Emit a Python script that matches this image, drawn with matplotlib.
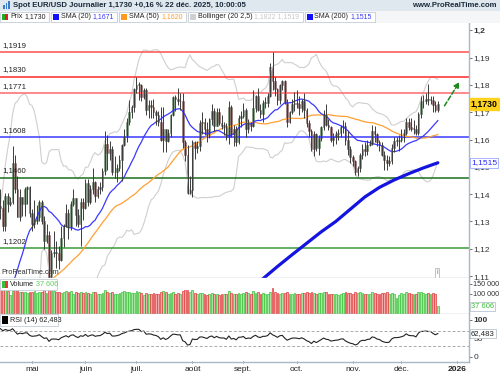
import matplotlib
matplotlib.use("Agg")
import matplotlib.pyplot as plt
import matplotlib.patches as mpatches
import matplotlib.transforms as mtransforms
import numpy as np
import pandas as pd

plt.rcParams['font.family'] = ['Liberation Sans', 'DejaVu Sans']

W, H = 500, 375

# trading days shown (EUR/USD daily, 14 Apr 2025 -> 22 Dec 2025)
dates = pd.bdate_range('2025-04-14', '2025-12-22')

# closes before the first candle, only used to start the moving averages / RSI
warmup_close = [1.0345, 1.0378, 1.0405, 1.0380, 1.0330, 1.0307, 1.0360, 1.0380, 1.0463, 1.0490,
                1.0485, 1.0445, 1.0420, 1.0500, 1.0460, 1.0465, 1.0515, 1.0485, 1.0400, 1.0375,
                1.0485, 1.0625, 1.0790, 1.0785, 1.0835, 1.0835, 1.0920, 1.0890, 1.0850, 1.0880,
                1.0920, 1.0945, 1.0900, 1.0855, 1.0815, 1.0800, 1.0795, 1.0755, 1.0800, 1.0830,
                1.0815, 1.0790, 1.0850, 1.1050, 1.0960, 1.0910, 1.0955, 1.0950, 1.1195, 1.1355]

open_ = [
    # avr
    1.1355, 1.1350, 1.1285, 1.1395, 1.1365, 1.1370, 1.1515, 1.1420, 1.1315, 1.1390, 1.1365, 1.1420, 1.1425,
    # mai
    1.1330, 1.1290, 1.1300, 1.1315, 1.1370, 1.1300, 1.1230, 1.1250, 1.1090, 1.1185, 1.1190, 1.1185, 1.1160,
    1.1240, 1.1285, 1.1330, 1.1280, 1.1365, 1.1385, 1.1325, 1.1290, 1.1370,
    # juin
    1.1350, 1.1440, 1.1370, 1.1420, 1.1445, 1.1395, 1.1420, 1.1425, 1.1485, 1.1585, 1.1550, 1.1565, 1.1480,
    1.1480, 1.1495, 1.1525, 1.1580, 1.1610, 1.1665, 1.1700, 1.1720,
    # juil
    1.1785, 1.1800, 1.1800, 1.1755, 1.1780, 1.1710, 1.1725, 1.1720, 1.1700, 1.1690, 1.1665, 1.1600, 1.1640,
    1.1595, 1.1625, 1.1690, 1.1755, 1.1750, 1.1740, 1.1740, 1.1590, 1.1545, 1.1405,
    # aout
    1.1415, 1.1590, 1.1570, 1.1575, 1.1660, 1.1665, 1.1640, 1.1615, 1.1675, 1.1705, 1.1650, 1.1700, 1.1660,
    1.1650, 1.1650, 1.1610, 1.1720, 1.1620, 1.1640, 1.1590, 1.1680,
    # sept
    1.1685, 1.1710, 1.1640, 1.1660, 1.1650, 1.1715, 1.1760, 1.1710, 1.1695, 1.1735, 1.1735, 1.1760, 1.1865,
    1.1815, 1.1785, 1.1745, 1.1800, 1.1815, 1.1735, 1.1665, 1.1700, 1.1730,
    # oct
    1.1735, 1.1730, 1.1715, 1.1740, 1.1710, 1.1660, 1.1630, 1.1565, 1.1620, 1.1570, 1.1605, 1.1645, 1.1690,
    1.1655, 1.1645, 1.1600, 1.1610, 1.1620, 1.1625, 1.1645, 1.1650, 1.1600, 1.1565,
    # nov
    1.1535, 1.1520, 1.1480, 1.1495, 1.1545, 1.1565, 1.1560, 1.1580, 1.1585, 1.1630, 1.1620, 1.1590, 1.1580,
    1.1545, 1.1525, 1.1515, 1.1520, 1.1570, 1.1595, 1.1595,
    # dec
    1.1600, 1.1610, 1.1625, 1.1665, 1.1645, 1.1640, 1.1640, 1.1625, 1.1695, 1.1740, 1.1740, 1.1750, 1.1745,
    1.1745, 1.1725, 1.1710]

high = [
    1.1420, 1.1380, 1.1405, 1.1405, 1.1390, 1.1575, 1.1545, 1.1465, 1.1420, 1.1390, 1.1425, 1.1430, 1.1430,
    1.1345, 1.1380, 1.1360, 1.1380, 1.1380, 1.1320, 1.1290, 1.1265, 1.1195, 1.1265, 1.1230, 1.1210, 1.1285,
    1.1290, 1.1365, 1.1345, 1.1375, 1.1420, 1.1385, 1.1345, 1.1385, 1.1385,
    1.1455, 1.1455, 1.1435, 1.1495, 1.1450, 1.1430, 1.1445, 1.1495, 1.1630, 1.1615, 1.1595, 1.1575, 1.1540,
    1.1510, 1.1545, 1.1585, 1.1640, 1.1680, 1.1745, 1.1725, 1.1790,
    1.1830, 1.1810, 1.1805, 1.1790, 1.1790, 1.1745, 1.1745, 1.1750, 1.1710, 1.1705, 1.1720, 1.1720, 1.1640,
    1.1640, 1.1695, 1.1760, 1.1765, 1.1790, 1.1770, 1.1770, 1.1600, 1.1580, 1.1465,
    1.1600, 1.1595, 1.1595, 1.1670, 1.1700, 1.1680, 1.1665, 1.1680, 1.1730, 1.1715, 1.1715, 1.1715, 1.1690,
    1.1665, 1.1660, 1.1740, 1.1725, 1.1655, 1.1650, 1.1690, 1.1705,
    1.1735, 1.1715, 1.1675, 1.1665, 1.1780, 1.1765, 1.1790, 1.1730, 1.1745, 1.1755, 1.1770, 1.1880, 1.1919,
    1.1830, 1.1790, 1.1805, 1.1820, 1.1820, 1.1750, 1.1705, 1.1750, 1.1775,
    1.1780, 1.1760, 1.1750, 1.1770, 1.1715, 1.1670, 1.1640, 1.1630, 1.1625, 1.1615, 1.1650, 1.1710, 1.1730,
    1.1675, 1.1650, 1.1625, 1.1630, 1.1640, 1.1655, 1.1670, 1.1665, 1.1630, 1.1575,
    1.1545, 1.1525, 1.1505, 1.1550, 1.1585, 1.1590, 1.1600, 1.1600, 1.1655, 1.1650, 1.1625, 1.1600, 1.1590,
    1.1560, 1.1545, 1.1540, 1.1585, 1.1610, 1.1610, 1.1615,
    1.1640, 1.1640, 1.1680, 1.1680, 1.1680, 1.1670, 1.1655, 1.1700, 1.1760, 1.1765, 1.1770, 1.1805, 1.1760,
    1.1760, 1.1740, 1.1740]

low = [
    1.1310, 1.1265, 1.1265, 1.1335, 1.1355, 1.1365, 1.1405, 1.1315, 1.1300, 1.1320, 1.1320, 1.1365, 1.1315,
    1.1265, 1.1275, 1.1290, 1.1300, 1.1290, 1.1200, 1.1220, 1.1065, 1.1085, 1.1170, 1.1130, 1.1125, 1.1155,
    1.1205, 1.1280, 1.1235, 1.1270, 1.1355, 1.1285, 1.1280, 1.1210, 1.1305,
    1.1345, 1.1355, 1.1365, 1.1400, 1.1370, 1.1385, 1.1400, 1.1410, 1.1470, 1.1490, 1.1525, 1.1470, 1.1460,
    1.1445, 1.1485, 1.1450, 1.1575, 1.1590, 1.1655, 1.1680, 1.1700,
    1.1770, 1.1745, 1.1740, 1.1750, 1.1690, 1.1680, 1.1680, 1.1680, 1.1655, 1.1650, 1.1595, 1.1555, 1.1555,
    1.1590, 1.1610, 1.1685, 1.1705, 1.1725, 1.1710, 1.1570, 1.1520, 1.1400, 1.1400,
    1.1390, 1.1530, 1.1550, 1.1560, 1.1620, 1.1615, 1.1590, 1.1605, 1.1655, 1.1630, 1.1650, 1.1655, 1.1640,
    1.1615, 1.1600, 1.1585, 1.1610, 1.1575, 1.1575, 1.1585, 1.1645,
    1.1680, 1.1610, 1.1625, 1.1630, 1.1645, 1.1700, 1.1705, 1.1680, 1.1665, 1.1715, 1.1720, 1.1755, 1.1780,
    1.1760, 1.1725, 1.1730, 1.1780, 1.1730, 1.1645, 1.1660, 1.1695, 1.1705,
    1.1715, 1.1690, 1.1700, 1.1680, 1.1645, 1.1610, 1.1560, 1.1540, 1.1560, 1.1545, 1.1595, 1.1635, 1.1650,
    1.1635, 1.1590, 1.1575, 1.1585, 1.1600, 1.1610, 1.1625, 1.1580, 1.1545, 1.1515,
    1.1505, 1.1470, 1.1468, 1.1480, 1.1530, 1.1540, 1.1545, 1.1575, 1.1580, 1.1590, 1.1575, 1.1560, 1.1540,
    1.1490, 1.1490, 1.1505, 1.1510, 1.1555, 1.1575, 1.1560,
    1.1590, 1.1590, 1.1615, 1.1635, 1.1630, 1.1620, 1.1615, 1.1615, 1.1680, 1.1715, 1.1730, 1.1725, 1.1730,
    1.1700, 1.1700, 1.1700]

close = [
    1.1350, 1.1285, 1.1395, 1.1365, 1.1370, 1.1515, 1.1420, 1.1315, 1.1390, 1.1365, 1.1420, 1.1425, 1.1330,
    1.1290, 1.1300, 1.1315, 1.1370, 1.1300, 1.1230, 1.1250, 1.1090, 1.1185, 1.1190, 1.1185, 1.1160, 1.1240,
    1.1285, 1.1330, 1.1280, 1.1365, 1.1385, 1.1325, 1.1290, 1.1370, 1.1350,
    1.1440, 1.1370, 1.1420, 1.1445, 1.1395, 1.1420, 1.1425, 1.1485, 1.1585, 1.1550, 1.1565, 1.1480, 1.1480,
    1.1495, 1.1525, 1.1580, 1.1610, 1.1665, 1.1700, 1.1720, 1.1785,
    1.1800, 1.1800, 1.1755, 1.1780, 1.1710, 1.1725, 1.1720, 1.1700, 1.1690, 1.1665, 1.1600, 1.1640, 1.1595,
    1.1625, 1.1690, 1.1755, 1.1750, 1.1740, 1.1740, 1.1590, 1.1545, 1.1405, 1.1415,
    1.1590, 1.1570, 1.1575, 1.1660, 1.1665, 1.1640, 1.1615, 1.1675, 1.1705, 1.1650, 1.1700, 1.1660, 1.1650,
    1.1650, 1.1610, 1.1720, 1.1620, 1.1640, 1.1590, 1.1680, 1.1685,
    1.1710, 1.1640, 1.1660, 1.1650, 1.1715, 1.1760, 1.1710, 1.1695, 1.1735, 1.1735, 1.1760, 1.1865, 1.1815,
    1.1785, 1.1745, 1.1800, 1.1815, 1.1735, 1.1665, 1.1700, 1.1730, 1.1735,
    1.1730, 1.1715, 1.1740, 1.1710, 1.1660, 1.1630, 1.1565, 1.1620, 1.1570, 1.1605, 1.1645, 1.1690, 1.1655,
    1.1645, 1.1600, 1.1610, 1.1620, 1.1625, 1.1645, 1.1650, 1.1600, 1.1565, 1.1535,
    1.1520, 1.1480, 1.1495, 1.1545, 1.1565, 1.1560, 1.1580, 1.1585, 1.1630, 1.1620, 1.1590, 1.1580, 1.1545,
    1.1525, 1.1515, 1.1520, 1.1570, 1.1595, 1.1595, 1.1600,
    1.1610, 1.1625, 1.1665, 1.1645, 1.1640, 1.1640, 1.1625, 1.1695, 1.1740, 1.1740, 1.1750, 1.1745, 1.1745,
    1.1725, 1.1710, 1.1730]

volume = [
    128000, 122000, 118000, 115000, 95000, 125000, 130000, 124000, 112000, 108000, 110000, 104000, 112000,
    108000, 115000, 104000, 110000, 112000, 118000, 106000, 128000, 120000, 115000, 110000, 108000, 104000,
    112000, 116000, 108000, 114000, 98000, 110000, 106000, 112000, 104000,
    108000, 104000, 100000, 112000, 110000, 98000, 102000, 106000, 118000, 112000, 104000, 110000, 102000,
    100000, 106000, 112000, 114000, 108000, 110000, 104000, 106000,
    116000, 108000, 104000, 96000, 106000, 102000, 100000, 104000, 98000, 100000, 110000, 114000, 108000,
    102000, 104000, 108000, 100000, 104000, 98000, 116000, 118000, 120000, 112000,
    122000, 104000, 100000, 106000, 104000, 98000, 96000, 100000, 104000, 100000, 102000, 96000, 98000,
    100000, 98000, 116000, 104000, 100000, 102000, 104000, 100000,
    106000, 108000, 104000, 102000, 116000, 104000, 108000, 100000, 104000, 98000, 100000, 110000, 128000,
    112000, 104000, 100000, 104000, 106000, 110000, 102000, 98000, 104000,
    102000, 100000, 106000, 104000, 108000, 106000, 110000, 104000, 100000, 106000, 104000, 108000, 110000,
    100000, 102000, 98000, 100000, 96000, 100000, 104000, 108000, 106000, 104000,
    102000, 108000, 104000, 110000, 106000, 100000, 102000, 98000, 110000, 104000, 100000, 102000, 104000,
    106000, 108000, 98000, 104000, 100000, 80000, 96000,
    104000, 102000, 110000, 104000, 100000, 98000, 102000, 108000, 112000, 104000, 100000, 106000, 102000,
    104000, 100000, 37606]

# SMA 200 (only the visible part)
sma200_idx = [102, 108, 114, 120, 126, 132, 138, 144, 150, 156, 162, 168, 174, 180]
sma200_val = [1.1045, 1.1090, 1.1135, 1.1178, 1.1220, 1.1262, 1.1300, 1.1345, 1.1390, 1.1425,
              1.1452, 1.1475, 1.1496, 1.1515]

# horizontal levels drawn on the chart
levels = [1.1919, 1.1830, 1.1771, 1.1608, 1.1460, 1.1202]
level_colors = ['#ff5050', '#ff2a2a', '#ff6a6a', '#3a3aff', '#1e6e1e', '#3a9a3a']
level_labels = ['1,1919', '1,1830', '1,1771', '1,1608', '1,1460', '1,1202']

month_labels = ['mai', 'juin', 'juil.', 'août', 'sept.', 'oct.', 'nov.', 'déc.', '2026']
month_starts = ['2025-05-01', '2025-06-02', '2025-07-01', '2025-08-01', '2025-09-01', '2025-10-01',
                '2025-11-03', '2025-12-01', '2026-01-01']

n = len(dates)
assert len(open_) == n and len(high) == n and len(low) == n and len(close) == n and len(volume) == n

o = np.array(open_)
h = np.array(high)
l = np.array(low)
c = np.array(close)
x = np.arange(n)

# indicators
full = pd.Series(warmup_close + close)
nw = len(warmup_close)
sma20 = full.rolling(20).mean().values[nw:]
sma50 = full.rolling(50).mean().values[nw:]
std20 = full.rolling(20).std(ddof=0).values[nw:]
bb_up = sma20 + 2.5 * std20
bb_dn = sma20 - 2.5 * std20

delta = full.diff()
gain = delta.clip(lower=0).ewm(alpha=1 / 14, adjust=False).mean()
loss = (-delta.clip(upper=0)).ewm(alpha=1 / 14, adjust=False).mean()
rsi = (100 - 100 / (1 + gain / loss)).values[nw:]


# pixel helpers
def fx(px):
    return px / W


def fy(py):
    return 1 - py / H


def idx_of_px(px):
    return 13 + (px - 32) / 2.43


x_left = idx_of_px(0)
x_right = idx_of_px(469)

fig = plt.figure(figsize=(5, 3.75), dpi=100)
fig.patch.set_facecolor('white')

axis_col = '#a9b8c6'

ax = fig.add_axes([0, fy(278), fx(469), fy(23) - fy(278)])
axv = fig.add_axes([0, fy(314), fx(469), fy(278) - fy(314)], sharex=ax)
axr = fig.add_axes([0, fy(362), fx(469), fy(314) - fy(362)], sharex=ax)

for a in (ax, axv, axr):
    a.set_facecolor('white')
    for s in ('left', 'top'):
        a.spines[s].set_visible(False)
    a.spines['right'].set_color(axis_col)
    a.spines['bottom'].set_color(axis_col)
    a.spines['right'].set_linewidth(1)
    a.spines['bottom'].set_linewidth(1)
    a.yaxis.tick_right()
    a.tick_params(axis='y', length=2, width=0.6, color='#555555', labelsize=6, pad=1,
                  labelcolor='#333333')
    a.tick_params(axis='x', length=0)

# ---- price panel ----
ax.set_xlim(x_left, x_right)
ax.set_ylim(1.1093, 1.2027)

ax.plot(x, bb_up, color='#cfcfcf', lw=0.8)
ax.plot(x, bb_dn, color='#cfcfcf', lw=0.8)

for lv, col, lab in zip(levels, level_colors, level_labels):
    ax.axhline(lv, color=col, lw=1.1)
    ax.text(x_left + 0.8, lv + 0.0012, lab, fontsize=5.6, color='#222222', va='bottom', ha='left')

ax.plot(sma200_idx, sma200_val, color='#1414e0', lw=2.3, solid_capstyle='round')
ax.plot(x, sma50, color='#ffa033', lw=0.9)
ax.plot(x, sma20, color='#3a3aff', lw=0.9)

up = c >= o
ax.vlines(x, l, h, color='#3c3c3c', lw=0.7)
body = np.maximum(np.abs(c - o), 0.0003)
ax.bar(x[up], body[up], bottom=o[up], width=0.7, color='#1a7a1a', edgecolor='#8a8a8a', linewidth=0.4)
ax.bar(x[~up], body[~up], bottom=c[~up], width=0.7, color='#7a0a0a', edgecolor='#8a8a8a', linewidth=0.4)

yt = [1.11, 1.12, 1.13, 1.14, 1.15, 1.16, 1.17, 1.18, 1.19, 1.20]
ax.set_yticks(yt)
ax.set_yticklabels(['1,11', '1,12', '1,13', '1,14', '1,15', '1,16', '1,17', '1,18', '1,19', '1,2'])
ax.get_yticklabels()[-1].set_fontweight('bold')
plt.setp(ax.get_xticklabels(), visible=False)

ax.annotate('', xy=(idx_of_px(461), 1.1820), xytext=(idx_of_px(443), 1.1715),
            arrowprops=dict(arrowstyle='-|>', color='#1a8a1a', lw=1.1, linestyle=(0, (3, 1.5)),
                            mutation_scale=8))

trans = mtransforms.blended_transform_factory(ax.transAxes, ax.transData)
ax.text(1.004, 1.1730, '1,1730', transform=trans, fontsize=6.3, fontweight='bold', va='center',
        ha='left', color='black', clip_on=False, zorder=10,
        bbox=dict(boxstyle='square,pad=0.15', fc='#ffd21f', ec='#ffd21f'))
ax.text(1.004, 1.1515, '1,1515', transform=trans, fontsize=6, va='center', ha='left',
        color='#2a2aff', clip_on=False, zorder=10,
        bbox=dict(boxstyle='square,pad=0.15', fc='white', ec='#9aa8ff', lw=0.6))

ax.text(0.002, 0.006, 'ProRealTime.com', transform=ax.transAxes, fontsize=5.2, color='#333333',
        va='bottom', ha='left')
ax.text(idx_of_px(437), 1.1112, 'i', fontsize=5, color='#777777', ha='center', va='center',
        bbox=dict(boxstyle='square,pad=0.2', fc='white', ec='#aaaaaa', lw=0.5))

# ---- volume panel ----
axv.set_ylim(0, 180000)
v = np.array(volume)
axv.bar(x[up], v[up], width=0.75, color='#a4e6a0', edgecolor='#3cc23c', linewidth=0.5)
axv.bar(x[~up], v[~up], width=0.75, color='#f4aaaa', edgecolor='#e03a3a', linewidth=0.5)
axv.set_yticks([100000, 150000])
axv.set_yticklabels(['100 000', '150 000'])
axv.tick_params(axis='y', labelsize=5.2)
plt.setp(axv.get_xticklabels(), visible=False)
transv = mtransforms.blended_transform_factory(axv.transAxes, axv.transData)
axv.text(1.004, 37606, '37 606', transform=transv, fontsize=5.4, va='center', ha='left',
         color='#3cbf3c', clip_on=False, zorder=10,
         bbox=dict(boxstyle='square,pad=0.15', fc='white', ec='#b8c4ce', lw=0.6))
axv.add_patch(mpatches.Rectangle((0, 0.66), 0.122, 0.32, transform=axv.transAxes, fc='white',
                                 ec='#c4ccd4', lw=0.6, zorder=2.5))
axv.add_patch(mpatches.Rectangle((0.004, 0.72), 0.007, 0.2, transform=axv.transAxes,
                                 fc='#3cbf3c', ec='none', zorder=3))
axv.add_patch(mpatches.Rectangle((0.011, 0.72), 0.007, 0.2, transform=axv.transAxes,
                                 fc='#e03a3a', ec='none', zorder=3))
axv.text(0.022, 0.82, 'Volume', transform=axv.transAxes, fontsize=5.2, va='center', ha='left',
         color='#222222', zorder=4)
axv.text(0.076, 0.82, '37 606', transform=axv.transAxes, fontsize=5.2, va='center', ha='left',
         color='#5ccc5c', zorder=4)

# ---- RSI panel ----
axr.set_ylim(-13.5, 116)
axr.plot(x, rsi, color='#222222', lw=0.8)
axr.axhline(70, color='#aaaaaa', lw=0.7, ls=(0, (3, 2)))
axr.axhline(30, color='#aaaaaa', lw=0.7, ls=(0, (3, 2)))
axr.set_yticks([0, 50, 100])
axr.set_yticklabels(['0', '50', '100'])
axr.get_yticklabels()[-1].set_fontweight('bold')
transr = mtransforms.blended_transform_factory(axr.transAxes, axr.transData)
axr.text(1.004, 62.5, '62,483', transform=transr, fontsize=5.6, va='center', ha='left',
         color='#222222', clip_on=False, zorder=10,
         bbox=dict(boxstyle='square,pad=0.15', fc='white', ec='#b8c4ce', lw=0.6))
axr.add_patch(mpatches.Rectangle((0, 0.76), 0.124, 0.24, transform=axr.transAxes, fc='white',
                                 ec='#c4ccd4', lw=0.6, zorder=2.5))
axr.add_patch(mpatches.Rectangle((0.004, 0.8), 0.014, 0.15, transform=axr.transAxes,
                                 fc='black', ec='none', zorder=3))
axr.text(0.022, 0.875, 'RSI (14) 62,483', transform=axr.transAxes, fontsize=5.2, va='center',
         ha='left', color='#222222', zorder=4)

# month ticks
pos = [dates.searchsorted(pd.Timestamp(d)) if pd.Timestamp(d) <= dates[-1]
       else n - 1 + len(pd.bdate_range(dates[-1], d)) - 1 for d in month_starts]
axr.set_xticks(pos)
axr.set_xticklabels(month_labels)
axr.tick_params(axis='x', length=2, width=0.6, color='#555555', labelsize=6, pad=2,
                labelcolor='#222222', direction='inout')
axr.get_xticklabels()[-1].set_fontweight('bold')

# ---- header ----
fig.patches.append(mpatches.Rectangle((0, fy(11)), 1, fy(0) - fy(11), transform=fig.transFigure,
                                      fc='#e0e8ef', ec='none', zorder=0))
fig.patches.append(mpatches.Rectangle((0, fy(23)), 1, fy(11) - fy(23), transform=fig.transFigure,
                                      fc='#f4f6f8', ec='none', zorder=0))
fig.text(fx(13), fy(5.5), 'Spot EUR/USD Journalier 1,1730 +0,16 % 22 déc. 2025, 10:00:05',
         fontsize=5.6, fontweight='bold', color='#1a2a3a', va='center', ha='left')
fig.text(fx(497), fy(5.5), 'www.ProRealTime.com', fontsize=5.6, fontweight='bold',
         color='#1a2a3a', va='center', ha='right')
for i, hgt in enumerate([4, 6, 8]):
    fig.patches.append(mpatches.Rectangle((fx(3 + i * 2.5), fy(9)), fx(1.5), fy(9 - hgt) - fy(9),
                                          transform=fig.transFigure, fc='#3a7ac8', ec='none'))

# legend row: (swatch colour(s), label, value, value colour)
leg = [
    (['#22aa22', '#dd2222'], 'Prix', '1,1730', '#222222'),
    (['#1010ff'], 'SMA (20)', '1,1671', '#3a3aff'),
    (['#ff9a20'], 'SMA (50)', '1,1620', '#ff9a20'),
    (['#d0d0d0'], 'Bollinger (20 2,5)', '1,1822 1,1519', '#c8c8c8'),
    (['#1010ff'], 'SMA (200)', '1,1515', '#3a3aff'),
]
x0 = 0
for sw, lab, val, vcol in leg:
    box = mpatches.Rectangle((fx(x0), fy(22)), fx(10), fy(12) - fy(22),
                             transform=fig.transFigure, fc='white', ec='#c4ccd4', lw=0.6)
    fig.patches.append(box)
    if len(sw) == 2:
        fig.patches.append(mpatches.Rectangle((fx(x0 + 2), fy(20)), fx(3), fy(14) - fy(20),
                                              transform=fig.transFigure, fc=sw[0], ec='none'))
        fig.patches.append(mpatches.Rectangle((fx(x0 + 5), fy(20)), fx(3), fy(14) - fy(20),
                                              transform=fig.transFigure, fc=sw[1], ec='none'))
    else:
        fig.patches.append(mpatches.Rectangle((fx(x0 + 2), fy(20)), fx(6), fy(14) - fy(20),
                                              transform=fig.transFigure, fc=sw[0], ec='none'))
    t = fig.text(fx(x0 + 10), fy(17), lab, fontsize=5.1, color='#222222', va='center', ha='left')
    fig.canvas.draw()
    bb = t.get_window_extent()
    tv = fig.text(fx(bb.x1 + 2), fy(17), val, fontsize=5.0, color=vcol, va='center', ha='left')
    fig.canvas.draw()
    end = tv.get_window_extent().x1 + 3
    box.set_width(fx(end - x0))
    x0 = end + 2

fig.savefig('out.png', dpi=100)
